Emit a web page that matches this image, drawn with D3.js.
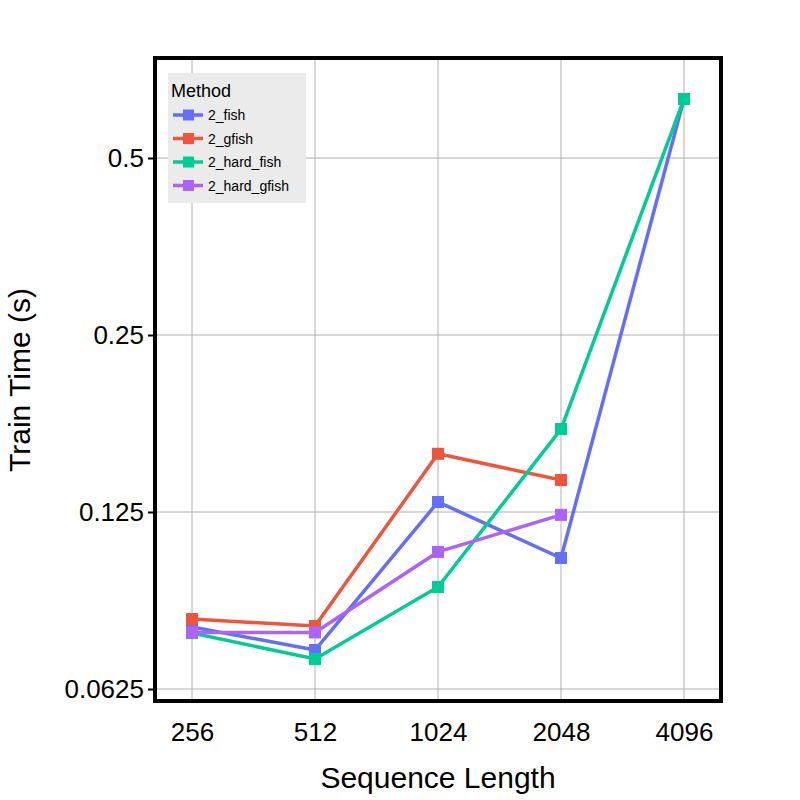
<!DOCTYPE html>
<html><head><meta charset="utf-8">
<script src="https://cdn.jsdelivr.net/npm/d3@7"></script>
<style>body{margin:0;background:#fff}svg{font-family:"Liberation Sans",Arial,sans-serif}</style>
</head><body><svg id="c" width="800" height="800"></svg>
<script>
const seqLengths = [256, 512, 1024, 2048, 4096];
const methods = ["2_fish", "2_gfish", "2_hard_fish", "2_hard_gfish"];
const colors = ["#636efa", "#ef553b", "#00cc96", "#ab63fa"];
const fishTimes = [0.0797, 0.0728, 0.130, 0.1044, 0.630];
const gfishTimes = [0.0822, 0.0800, 0.157, 0.1417, null];
const hardFishTimes = [0.0778, 0.0703, 0.0932, 0.173, 0.630];
const hardGfishTimes = [0.0780, 0.0780, 0.1069, 0.1236, null];
const yTicks = [0.0625, 0.125, 0.25, 0.5];
const series = [fishTimes, gfishTimes, hardFishTimes, hardGfishTimes];

const svg = d3.select("#c");
const L = 155, R = 721, T = 58, B = 701;
const x = d3.scaleLog().base(2).domain([256 * Math.pow(2, -37 / 123), 4096 * Math.pow(2, 37 / 123)]).range([L, R]);
const y = d3.scaleLog().base(2).domain([0.0625 * Math.pow(2, -12 / 177), 0.5 * Math.pow(2, 100 / 177)]).range([B, T]);

const grid = svg.append("g").attr("stroke", "#b0b0b0").attr("stroke-width", 1);
seqLengths.forEach(v => grid.append("line").attr("x1", x(v)).attr("x2", x(v)).attr("y1", T).attr("y2", B));
yTicks.forEach(v => grid.append("line").attr("x1", L).attr("x2", R).attr("y1", y(v)).attr("y2", y(v)));

const line = d3.line().defined(d => d[1] != null).x(d => x(d[0])).y(d => y(d[1]));
series.forEach((s, i) => {
  const pts = seqLengths.map((v, j) => [v, s[j]]);
  svg.append("path").attr("d", line(pts)).attr("fill", "none").attr("stroke", colors[i]).attr("stroke-width", 3.5);
  svg.selectAll(null).data(pts.filter(d => d[1] != null)).join("rect")
    .attr("x", d => x(d[0]) - 6).attr("y", d => y(d[1]) - 6).attr("width", 12).attr("height", 12).attr("fill", colors[i]);
});

svg.append("rect").attr("x", L).attr("y", T).attr("width", R - L).attr("height", B - T)
  .attr("fill", "none").attr("stroke", "#000").attr("stroke-width", 4);

const xa = svg.append("g").attr("transform", `translate(0,${B})`)
  .call(d3.axisBottom(x).tickValues(seqLengths).tickFormat(d3.format("d")).tickSize(0).tickPadding(22));
xa.select(".domain").remove();
xa.selectAll("text").attr("font-size", 26).attr("fill", "#000").attr("font-family", "Liberation Sans, Arial, sans-serif");
const ya = svg.append("g").attr("transform", `translate(${L},0)`)
  .call(d3.axisLeft(y).tickValues(yTicks).tickFormat(d => String(d)).tickSize(7).tickPadding(4));
ya.select(".domain").remove();
ya.selectAll("line").attr("stroke", "#000").attr("stroke-width", 2);
ya.selectAll("text").attr("font-size", 26).attr("fill", "#000").attr("font-family", "Liberation Sans, Arial, sans-serif");

svg.append("text").attr("x", 438).attr("y", 788).attr("text-anchor", "middle").attr("font-size", 30).text("Sequence Length");
svg.append("text").attr("transform", "translate(30,380) rotate(-90)").attr("text-anchor", "middle").attr("font-size", 30).text("Train Time (s)");

const lg = svg.append("g");
lg.append("rect").attr("x", 168).attr("y", 73).attr("width", 138).attr("height", 130).attr("fill", "#ebebeb");
lg.append("text").attr("x", 171).attr("y", 97).attr("font-size", 18).text("Method");
methods.forEach((m, i) => {
  const yy = 115 + i * 23.5;
  lg.append("line").attr("x1", 173).attr("x2", 203).attr("y1", yy).attr("y2", yy).attr("stroke", colors[i]).attr("stroke-width", 3.5);
  lg.append("rect").attr("x", 183).attr("y", yy - 5.5).attr("width", 11).attr("height", 11).attr("fill", colors[i]);
  lg.append("text").attr("x", 208).attr("y", yy + 5).attr("font-size", 14).text(m);
});
</script></body></html>
